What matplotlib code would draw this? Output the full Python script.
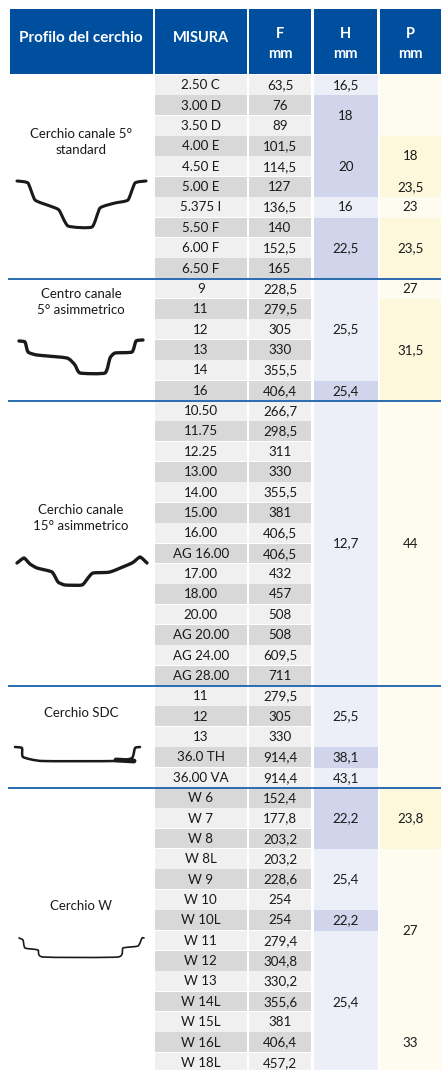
import matplotlib.pyplot as plt
from matplotlib.patches import PathPatch, Rectangle
from matplotlib.path import Path

plt.rcParams['font.family'] = ['Lato', 'DejaVu Sans']

# table content
misura = ['2.50 C', '3.00 D', '3.50 D', '4.00 E', '4.50 E', '5.00 E', '5.375 I', '5.50 F', '6.00 F', '6.50 F',
          '9', '11', '12', '13', '14', '16',
          '10.50', '11.75', '12.25', '13.00', '14.00', '15.00', '16.00', 'AG 16.00', '17.00', '18.00', '20.00',
          'AG 20.00', 'AG 24.00', 'AG 28.00',
          '11', '12', '13', '36.0 TH', '36.00 VA',
          'W 6', 'W 7', 'W 8', 'W 8L', 'W 9', 'W 10', 'W 10L', 'W 11', 'W 12', 'W 13', 'W 14L', 'W 15L', 'W 16L',
          'W 18L']
f_mm = ['63,5', '76', '89', '101,5', '114,5', '127', '136,5', '140', '152,5', '165',
        '228,5', '279,5', '305', '330', '355,5', '406,4',
        '266,7', '298,5', '311', '330', '355,5', '381', '406,5', '406,5', '432', '457', '508', '508', '609,5', '711',
        '279,5', '305', '330', '914,4', '914,4',
        '152,4', '177,8', '203,2', '203,2', '228,6', '254', '254', '279,4', '304,8', '330,2', '355,6', '381', '406,4',
        '457,2']

# merged cells: first row, last row, label, dark shade, row where the label is centred
h_cells = [(0, 0, '16,5', False, 0), (1, 2, '18', True, 1.5), (3, 5, '20', True, 4), (6, 6, '16', False, 6),
           (7, 9, '22,5', True, 8), (10, 14, '25,5', False, 12), (15, 15, '25,4', True, 15),
           (16, 29, '12,7', False, 22.5), (30, 32, '25,5', False, 31), (33, 33, '38,1', True, 33),
           (34, 34, '43,1', False, 34), (35, 37, '22,2', True, 36), (38, 40, '25,4', False, 39),
           (41, 41, '22,2', True, 41), (42, 48, '25,4', False, 45)]
p_cells = [(0, 2, '', False, 1), (3, 4, '18', True, 3.5), (5, 5, '23,5', True, 5), (6, 6, '23', False, 6),
           (7, 9, '23,5', True, 8), (10, 10, '27', False, 10), (11, 15, '31,5', True, 13),
           (16, 34, '44', False, 22.5), (35, 37, '23,8', True, 36), (38, 46, '27', False, 41.5),
           (47, 48, '33', False, 47)]

section_rows = [10, 16, 30, 35]
section_names = ['Cerchio canale 5°\nstandard', 'Centro canale\n5° asimmetrico', 'Cerchio canale\n15° asimmetrico',
                 'Cerchio SDC', 'Cerchio W']
section_name_y = [142, 302, 518, 713, 906]

# rim outlines
profile_1 = [(17, 181), (28, 183), (35, 200), (50, 206), (59, 210), (68, 226), (92, 227), (100, 208), (115, 203),
             (128, 200), (135, 183), (146, 181)]
profile_2 = [(19, 341), (25, 342), (28, 352), (37, 355), (67, 358), (75, 365), (80, 373), (105, 373), (110, 358),
             (115, 353), (132, 352), (136, 341), (143, 340)]
profile_3 = [(17, 563), (24, 558), (30, 564), (37, 568), (52, 572), (58, 582), (65, 585), (82, 585), (88, 578),
             (93, 573), (110, 572), (132, 563), (140, 557), (147, 563)]
profile_4 = [(15, 747), (22, 748), (23, 757), (42, 761), (115, 761), (132, 758), (135, 748), (140, 747)]
profile_5 = [(19, 938), (23, 940), (25, 948), (38, 950), (43, 957), (118, 957), (123, 948), (138, 946), (142, 938),
             (144, 938)]
profile_widths = [2.2, 2.4, 2.4, 1.8, 1.2]

# layout in pixels
TOP = 75
ROW = 20.37
columns = {'misura': (155, 246.5), 'f': (249, 311), 'h': (314, 378), 'p': (380, 441)}
BLUE = '#004f9f'
TEXT_SIZE = 9.6


def row_y(row):
    return TOP + ROW * row


def smooth_line(ax, points, width):
    # bezier segments through the points, tangents kept short so the bends do not overshoot
    pts = [points[0]] + list(points) + [points[-1]]
    verts = [points[0]]
    codes = [Path.MOVETO]
    for i in range(1, len(pts) - 2):
        p0, p1, p2, p3 = pts[i - 1], pts[i], pts[i + 1], pts[i + 2]
        verts.append((p1[0] + (p2[0] - p0[0]) / 12, p1[1] + (p2[1] - p0[1]) / 12))
        verts.append((p2[0] - (p3[0] - p1[0]) / 12, p2[1] - (p3[1] - p1[1]) / 12))
        verts.append(p2)
        codes += [Path.CURVE4] * 3
    ax.add_patch(PathPatch(Path(verts, codes), fc='none', ec='#1a1a1a', lw=width, capstyle='round',
                           joinstyle='round'))


def draw_merged(ax, cells, col, light, dark):
    x0, x1 = columns[col]
    for first, last, label, is_dark, label_row in cells:
        ax.add_patch(Rectangle((x0, row_y(first)), x1 - x0, ROW * (last - first + 1),
                               fc=dark if is_dark else light, ec='none'))
        if label:
            ax.text((x0 + x1) / 2, row_y(label_row + 0.5), label, ha='center', va='center', fontsize=TEXT_SIZE,
                    color='#1a1a1a')


fig = plt.figure(figsize=(4.41, 10.7), dpi=100)
ax = fig.add_axes([0, 0, 1, 1])
ax.set_xlim(0, 441)
ax.set_ylim(1070, 0)
ax.axis('off')

# header
header_cols = [(10, 152.5), columns['misura'], columns['f'], (314, 377), columns['p']]
header_text = ['Profilo del cerchio', 'MISURA', 'F\nmm', 'H\nmm', 'P\nmm']
header_y = [38.5, 38.5, 44, 44, 44]
header_size = [11, 10.5, 10.5, 10.5, 10.5]
for (x0, x1), label, y, size in zip(header_cols, header_text, header_y, header_size):
    ax.add_patch(Rectangle((x0, 9), x1 - x0, 65, fc=BLUE, ec='none'))
    ax.text((x0 + x1) / 2, y, label, ha='center', va='center', color='white', fontsize=size, fontweight='bold',
            linespacing=1.5)

# striped rows
for i, (size, f) in enumerate(zip(misura, f_mm)):
    shade = '#d8d8d8' if i % 2 else '#f0f0f0'
    for col, label in (('misura', size), ('f', f)):
        x0, x1 = columns[col]
        ax.add_patch(Rectangle((x0, row_y(i)), x1 - x0, ROW - 0.6, fc=shade, ec='none'))
        ax.text((x0 + x1) / 2, row_y(i + 0.5), label, ha='center', va='center', fontsize=TEXT_SIZE, color='#1a1a1a')

draw_merged(ax, h_cells, 'h', '#eceff8', '#d0d5ec')
draw_merged(ax, p_cells, 'p', '#fefcef', '#fdf7dc')

# section separators
for row in section_rows:
    ax.plot([8, 441], [row_y(row), row_y(row)], color='#2a6cb0', lw=1.4, solid_capstyle='butt')

# left column
for name, y in zip(section_names, section_name_y):
    ax.text(81, y, name, ha='center', va='center', fontsize=9.5, color='#1a1a1a', linespacing=1.5)

profiles = [profile_1, profile_2, profile_3, profile_4, profile_5]
for points, width in zip(profiles, profile_widths):
    smooth_line(ax, points, width)
# thick weld on the SDC rim
ax.plot([116, 134], [760, 761], color='#1a1a1a', lw=3.5, solid_capstyle='round')

fig.savefig('out.png', dpi=100)
